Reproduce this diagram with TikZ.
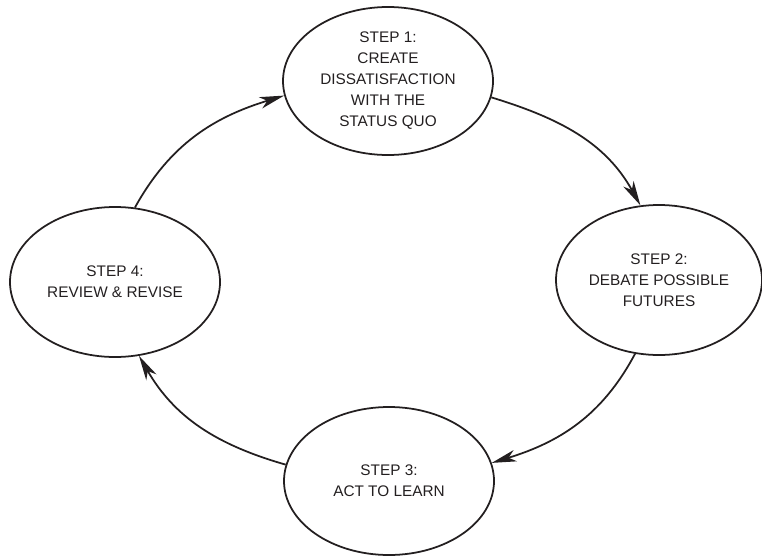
\documentclass[tikz,border=0pt]{standalone}
\usepackage{fontspec}
\setmainfont{Liberation Sans}
\usetikzlibrary{shapes.geometric,arrows.meta}
\definecolor{ink}{HTML}{231F20}
\tikzset{
  stepnode/.style={ellipse, draw=ink, line width=1.5pt, minimum width=210*0.03cm, minimum height=148*0.03cm,
    inner sep=0pt, align=center, text=ink, font=\fontsize{13.1pt}{17.9pt}\selectfont},
  flow/.style={draw=ink, line width=1.5pt, -{Stealth[length=21pt,width=10pt,inset=6pt]}}
}
\begin{document}
\begin{tikzpicture}[x=0.03cm,y=-0.03cm]
\useasboundingbox (0,0) rectangle (762,556);
\node[stepnode] (e1) at (388,81) {STEP 1:\\CREATE\\DISSATISFACTION\\WITH THE\\STATUS QUO};
\node[stepnode, minimum width=206*0.03cm, minimum height=150*0.03cm] (e2) at (659,280) {STEP 2:\\DEBATE POSSIBLE\\FUTURES};
\node[stepnode] (e3) at (389,481) {STEP 3:\\ACT TO LEARN};
\node[stepnode, minimum height=150*0.03cm] (e4) at (115,282) {STEP 4:\\REVIEW \& REVISE};
\draw[flow] (e1.-9) to[out=-17,in=119] (e2.104);
\draw[flow] (e2.252) to[out=-118,in=17] (e3.10);
\draw[flow] (e3.171) to[out=164,in=-60] (e4.288);
\draw[flow] (e4.75) to[out=61,in=197] (e1.188);
\end{tikzpicture}
\end{document}
